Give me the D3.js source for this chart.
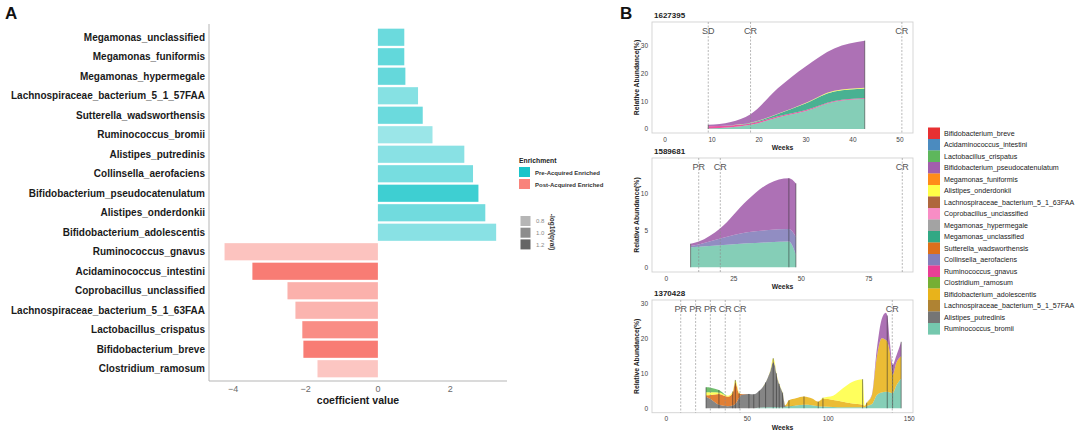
<!DOCTYPE html>
<html><head><meta charset="utf-8">
<script src="https://cdn.jsdelivr.net/npm/d3@7"></script>
<style>body{margin:0;background:#fff;} svg{display:block;font-family:"Liberation Sans",Arial,Helvetica,sans-serif;}</style>
</head><body><svg id="c" width="1080" height="432"></svg>
<script>
// ---------------- Panel A data ----------------
const species = ["Megamonas_unclassified","Megamonas_funiformis","Megamonas_hypermegale","Lachnospiraceae_bacterium_5_1_57FAA","Sutterella_wadsworthensis","Ruminococcus_bromii","Alistipes_putredinis","Collinsella_aerofaciens","Bifidobacterium_pseudocatenulatum","Alistipes_onderdonkii","Bifidobacterium_adolescentis","Ruminococcus_gnavus","Acidaminococcus_intestini","Coprobacillus_unclassified","Lachnospiraceae_bacterium_5_1_63FAA","Lactobacillus_crispatus","Bifidobacterium_breve","Clostridium_ramosum"];
const coefficients = [0.73,0.73,0.76,1.11,1.24,1.51,2.39,2.63,2.78,2.97,3.27,-4.24,-3.47,-2.50,-2.28,-2.09,-2.06,-1.67];
const negLog10Q = [0.94,0.97,0.96,0.85,0.94,0.78,0.84,0.90,1.09,0.92,0.84,0.82,1.26,0.93,0.91,1.16,1.26,0.80];
const enrichmentGroups = ["Pre-Acquired Enriched","Post-Acquired Enriched"];
const enrichmentColors = ["#00BFC4","#F8766D"];
const coefTicks = [-4,-2,0,2];
const alphaLegendValues = [0.8,1.0,1.2];

// ---------------- Panel B data ----------------
const taxa = ["Bifidobacterium_breve","Acidaminococcus_intestini","Lactobacillus_crispatus","Bifidobacterium_pseudocatenulatum","Megamonas_funiformis","Alistipes_onderdonkii","Lachnospiraceae_bacterium_5_1_63FAA","Coprobacillus_unclassified","Megamonas_hypermegale","Megamonas_unclassified","Sutterella_wadsworthensis","Collinsella_aerofaciens","Ruminococcus_gnavus","Clostridium_ramosum","Bifidobacterium_adolescentis","Lachnospiraceae_bacterium_5_1_57FAA","Alistipes_putredinis","Ruminococcus_bromii"];
const taxaColors = ["#E41A1C","#377EB8","#4DAF4A","#984EA3","#FF7F00","#FFFF33","#A65628","#F781BF","#999999","#1B9E77","#D95F02","#7570B3","#E7298A","#66A61E","#E6AB02","#A6761D","#666666","#66C2A5"];

// Patient 1627395
const p1Id = "1627395";
const p1Weeks = [9.2,14,18.2,24,30,36,42.5];
const p1Layers = [
  ["Ruminococcus_bromii",              [0.2,0.6,1.5,4.2,6.5,9.8,10.9]],
  ["Ruminococcus_gnavus",              [0.8,0.7,0.5,0.4,0.4,0.3,0.3]],
  ["Megamonas_unclassified",           [0,0.05,0.2,0.8,2.4,3.4,3.4]],
  ["Alistipes_onderdonkii",            [0,0,0.05,0.1,0.2,0.3,0.3]],
  ["Bifidobacterium_pseudocatenulatum",[0.5,1.2,3.1,9.2,13.2,15.3,17.0]]
];
const p1Samples = [9.2,42.5];
const p1EventWeeks = [9.2,18.2,50.4];
const p1EventLabels = ["SD","CR","CR"];
const p1XTicks = [0,10,20,30,40,50];
const p1YTicks = [0,10,20,30];

// Patient 1589681
const p2Id = "1589681";
const p2Weeks = [9,12,20,30,38,45.4,48];
const p2Layers = [
  ["Ruminococcus_bromii",              [2.7,2.8,3.0,3.25,3.4,3.5,1.7]],
  ["Collinsella_aerofaciens",          [0.2,0.3,0.9,1.5,1.65,1.7,2.4]],
  ["Bifidobacterium_pseudocatenulatum",[0.3,0.4,1.4,4.35,6.35,6.9,7.3]]
];
const p2Samples = [9,45.4,48];
const p2EventWeeks = [12.0,20.0,87.4];
const p2EventLabels = ["PR","CR","CR"];
const p2XTicks = [0,25,50,75];
const p2YTicks = [0,5,10];

// Patient 1370428
const p3Id = "1370428";
const p3Weeks = [24.5,27.5,32.5,38,41,42.6,45,46.5,51,54,57.4,61.3,64,66,67,68,69.7,71.8,73.5,75.7,80,85,90,93.8,96.7,103,109,115,121.2,122.5,123.7,127,130,133,135.5,136.4,138,139.7,142,145];
const p3Layers = [
  ["Ruminococcus_bromii",              [0,0,0,0,0,0,0,0,0,0,0.2,0.3,0.3,0.4,0.4,0.3,0.3,0.3,0.4,0.6,0.8,1.0,0.9,0.6,0.5,0.4,0.3,0.3,0.3,0.3,0.6,1.2,3.8,4.5,4.7,4.7,4.5,4.3,6.5,8.5]],
  ["Alistipes_putredinis",             [3.3,2.6,1.0,0.6,0.8,1.2,3.0,3.9,4.1,4.0,4.8,7.1,10.0,12.7,11.8,9.3,6.5,4.0,0.2,0,0,0,0,0,0,0,0,0,0,0,0,0,0,0,0,0,0,0,0,0]],
  ["Bifidobacterium_adolescentis",     [0,0,0,0,0,0,0,0,0,0,0,0,0,0.3,0.2,0.1,0.1,0.1,0.3,1.7,2.1,2.4,1.9,1.3,2.2,2.0,1.6,1.1,0.7,0.4,0.9,2.6,11.0,15.5,14.8,14.4,11.5,5.2,6.5,6.4]],
  ["Sutterella_wadsworthensis",        [0.4,1.2,3.1,2.7,3.6,6.1,1.1,0.2,0,0,0,0,0,0,0,0,0,0,0,0,0,0,0,0,0,0,0,0,0,0,0,0,0,0,0,0,0,0,0,0]],
  ["Alistipes_onderdonkii",            [0.9,0.8,0.4,0.3,0.4,0.8,0.3,0,0,0,0,0,0.2,0.9,0.6,0.3,0.1,0.1,0,0,0,0,0,0,0.3,1.2,3.8,6.2,7.3,0.1,0.1,0,0,0,0,0,0,0,0,0]],
  ["Bifidobacterium_pseudocatenulatum",[0,0,0,0,0,0,0,0,0,0,0,0,0,0,0,0,0,0,0,0,0,0,0,0,0,0,0,0,0,0,0,0.2,2.2,5.5,7.8,7.4,3.0,2.9,2.0,4.1]],
  ["Lactobacillus_crispatus",          [1.4,1.3,0.7,0,0,0,0,0,0,0,0,0,0,0,0,0,0,0,0,0,0,0,0,0,0,0,0,0,0,0,0,0,0,0,0,0,0,0,0,0]]
];
const p3Samples = [24.5,32.5,41,42.6,45,51,54,57.4,61.3,66,68,69.7,71.8,75.7,85,93.8,96.7,121.2,123.7,136.4,139.7,145];
const p3EventWeeks = [8.9,18.1,27.2,36.4,45.5,139.5];
const p3EventLabels = ["PR","PR","PR","CR","CR","CR"];
const p3XTicks = [0,50,100,150];
const p3YTicks = [0,10,20,30];

// ---------------- Drawing ----------------
const svg = d3.select("#c");
svg.append("rect").attr("width",1080).attr("height",432).attr("fill","#fff");

// Panel letters
svg.append("text").attr("x",5).attr("y",18.5).attr("font-size",17).attr("font-weight","bold").attr("fill","#111").text("A");
svg.append("text").attr("x",620).attr("y",18.5).attr("font-size",17).attr("font-weight","bold").attr("fill","#111").text("B");

// ---- Panel A ----
const xA = d3.scaleLinear().domain([-4.67,3.57]).range([209,507]);
const yA = d3.scaleBand().domain(species).range([27.5,378.5]).paddingInner(0.12).paddingOuter(0.06);
const alphaScale = d3.scaleLinear().domain([0.7,1.3]).range([0.3,1.0]).clamp(true);
const gA = svg.append("g");
gA.selectAll("rect.bar").data(species).join("rect").attr("class","bar")
  .attr("x",(d,i)=>Math.min(xA(0),xA(coefficients[i])))
  .attr("width",(d,i)=>Math.abs(xA(coefficients[i])-xA(0)))
  .attr("y",d=>yA(d)).attr("height",yA.bandwidth())
  .attr("fill",(d,i)=>coefficients[i]>0?enrichmentColors[0]:enrichmentColors[1])
  .attr("fill-opacity",(d,i)=>alphaScale(negLog10Q[i]));
gA.selectAll("text.lab").data(species).join("text").attr("class","lab")
  .attr("x",205).attr("y",d=>yA(d)+yA.bandwidth()/2).attr("dy","0.35em")
  .attr("text-anchor","end").attr("font-size",10).attr("font-weight","bold").attr("fill","#1a1a1a").text(d=>d);
gA.append("line").attr("x1",209).attr("x2",209).attr("y1",24).attr("y2",381).attr("stroke","#b5b5b5").attr("stroke-width",1);
gA.append("line").attr("x1",209).attr("x2",507).attr("y1",381).attr("y2",381).attr("stroke","#b5b5b5").attr("stroke-width",1);
gA.selectAll("text.tick").data(coefTicks).join("text").attr("class","tick")
  .attr("x",d=>xA(d)).attr("y",388.5).attr("dy","0.35em").attr("text-anchor","middle")
  .attr("font-size",9).attr("fill","#6a6a6a").text(d=>d3.format("d")(d));
gA.append("text").attr("x",358).attr("y",400.5).attr("dy","0.35em").attr("text-anchor","middle")
  .attr("font-size",10.5).attr("font-weight","bold").attr("fill","#1a1a1a").text("coefficient value");

// Legend A
const gL = svg.append("g");
gL.append("text").attr("x",519).attr("y",161).attr("dy","0.35em").attr("font-size",6.8).attr("font-weight","bold").attr("fill","#222").text("Enrichment");
enrichmentGroups.forEach((g,i)=>{
  gL.append("rect").attr("x",519).attr("y",167+i*12).attr("width",11).attr("height",10).attr("fill",enrichmentColors[i]).attr("fill-opacity",0.9);
  gL.append("text").attr("x",535).attr("y",172.5+i*12).attr("dy","0.35em").attr("font-size",6).attr("font-weight","bold").attr("fill","#333").text(g);
});
alphaLegendValues.forEach((v,i)=>{
  gL.append("rect").attr("x",520.5).attr("y",216+i*11.7).attr("width",10).attr("height",10).attr("fill","#505050").attr("fill-opacity",alphaScale(v));
  gL.append("text").attr("x",536).attr("y",221+i*11.7).attr("dy","0.35em").attr("font-size",6).attr("fill","#888").text(v.toFixed(1));
});
gL.append("text").attr("transform","translate(552,232) rotate(90)").attr("text-anchor","middle").attr("dy","0.35em")
  .attr("font-size",6.5).attr("font-weight","bold").attr("fill","#333").text("-log10(qval)");

// ---- Panel B ----
const colorOf = d3.scaleOrdinal().domain(taxa).range(taxaColors);
const stackOrder = taxa.slice().reverse(); // bottom -> top
const panels = [
  {id:p1Id, weeks:p1Weeks, layers:p1Layers, samples:p1Samples, ev:p1EventWeeks, evl:p1EventLabels, xt:p1XTicks, yt:p1YTicks,
   top:22, bottom:133, xd:[-2.77,52.77], yd:[-1.44,38.63]},
  {id:p2Id, weeks:p2Weeks, layers:p2Layers, samples:p2Samples, ev:p2EventWeeks, evl:p2EventLabels, xt:p2XTicks, yt:p2YTicks,
   top:158, bottom:272, xd:[-5.30,91.37], yd:[-0.64,14.85]},
  {id:p3Id, weeks:p3Weeks, layers:p3Layers, samples:p3Samples, ev:p3EventWeeks, evl:p3EventLabels, xt:p3XTicks, yt:p3YTicks,
   top:300, bottom:412.7, xd:[-8.83,152.3], yd:[-1.26,30.94]}
];
const L = 652, R = 913;
panels.forEach(p=>{
  const g = svg.append("g");
  const x = d3.scaleLinear().domain(p.xd).range([L,R]);
  const y = d3.scaleLinear().domain(p.yd).range([p.bottom,p.top]);
  const present = stackOrder.filter(k=>p.layers.some(l=>l[0]===k));
  const rows = p.weeks.map((w,i)=>{
    const r = {week:w};
    p.layers.forEach(l=>{ r[l[0]] = l[1][i]; });
    return r;
  });
  const series = d3.stack().keys(present)(rows);
  const area = d3.area().x(d=>x(d.data.week)).y0(d=>y(d[0])).y1(d=>y(d[1])).curve(d3.curveMonotoneX);
  g.append("rect").attr("x",L).attr("y",p.top).attr("width",R-L).attr("height",p.bottom-p.top)
    .attr("fill","none").attr("stroke","#d2d2d2").attr("stroke-width",0.9);
  g.selectAll("path.a").data(series).join("path").attr("class","a")
    .attr("d",area).attr("fill",d=>colorOf(d.key)).attr("fill-opacity",0.8);
  // sample lines
  const totals = rows.map(r=>present.reduce((s,k)=>s+(r[k]||0),0));
  p.samples.forEach(s=>{
    const i = p.weeks.indexOf(s);
    g.append("line").attr("x1",x(s)).attr("x2",x(s)).attr("y1",y(0)).attr("y2",y(totals[i]))
      .attr("stroke","#2a2a2a").attr("stroke-opacity",0.6).attr("stroke-width",0.9);
  });
  // event lines
  p.ev.forEach((w,i)=>{
    g.append("line").attr("x1",x(w)).attr("x2",x(w)).attr("y1",p.top).attr("y2",p.bottom)
      .attr("stroke","#8a8a8a").attr("stroke-width",0.6).attr("stroke-dasharray","2,1.5");
    g.append("text").attr("x",x(w)).attr("y",p.top+8.5).attr("dy","0.35em").attr("text-anchor","middle")
      .attr("font-size",9).attr("fill","#555").text(p.evl[i]);
  });
  g.selectAll("text.xt").data(p.xt).join("text").attr("class","xt")
    .attr("x",d=>x(d)).attr("y",p.bottom+6.5).attr("dy","0.35em").attr("text-anchor","middle")
    .attr("font-size",6.5).attr("fill","#444").text(d=>d);
  g.selectAll("text.yt").data(p.yt).join("text").attr("class","yt")
    .attr("x",L-4).attr("y",d=>y(d)).attr("dy","0.35em").attr("text-anchor","end")
    .attr("font-size",6.5).attr("fill","#444").text(d=>d);
  g.append("text").attr("x",(L+R)/2).attr("y",p.bottom+15).attr("dy","0.35em").attr("text-anchor","middle")
    .attr("font-size",6.8).attr("font-weight","bold").attr("fill","#222").text("Weeks");
  g.append("text").attr("transform",`translate(637,${(p.top+p.bottom)/2}) rotate(-90)`).attr("dy","0.35em").attr("text-anchor","middle")
    .attr("font-size",6.8).attr("font-weight","bold").attr("fill","#222").text("Relative Abundance(%)");
  g.append("text").attr("x",654).attr("y",p.top-7).attr("dy","0.35em")
    .attr("font-size",8).attr("font-weight","bold").attr("fill","#222").text(p.id);
});

// Legend B
const gB = svg.append("g");
taxa.forEach((t,i)=>{
  gB.append("rect").attr("x",928).attr("y",127.5+i*11.5).attr("width",12).attr("height",11.6).attr("fill",taxaColors[i]).attr("fill-opacity",0.9);
  gB.append("text").attr("x",944).attr("y",133.25+i*11.5).attr("dy","0.35em").attr("font-size",7.1).attr("fill","#1a1a1a").text(t);
});
</script></body></html>
